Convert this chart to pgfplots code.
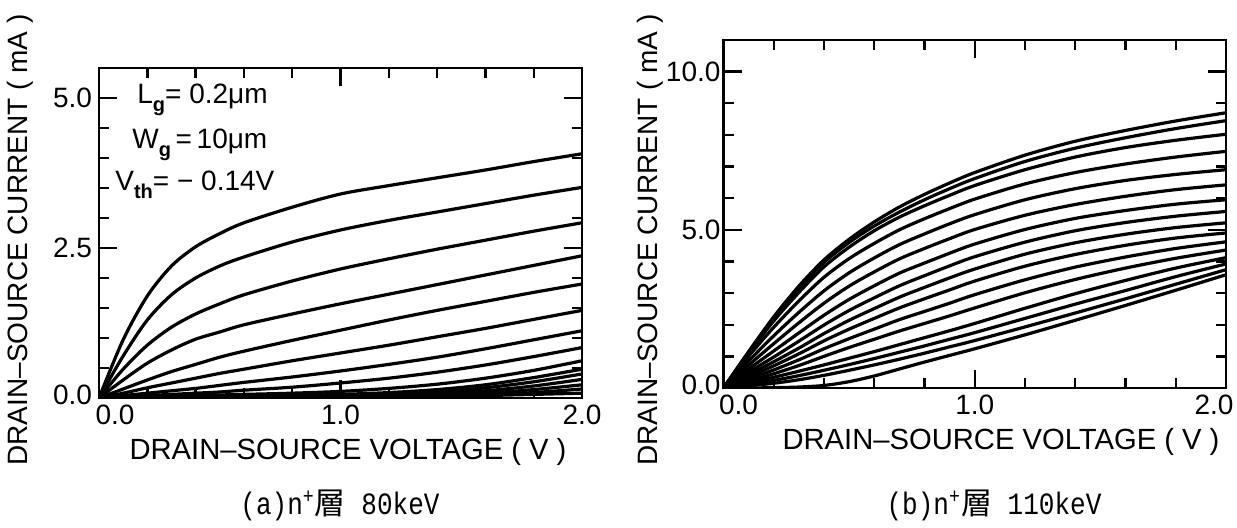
\documentclass[border=0pt]{standalone}
\usepackage{fontspec}
\usepackage{pgfplots}
\usepackage{pgfplotstable}
\pgfplotsset{compat=1.18}
\setmainfont{Liberation Sans}
\newfontfamily\capfont[FakeStretch=0.84]{Liberation Mono}
\newfontfamily\cjk{Noto Sans CJK JP}
\newcommand\sub[1]{\raisebox{-0.5ex}{\fontsize{10}{10}\selectfont\bfseries #1}}

\pgfplotstableread{
V   c1   c2   c3   c4   c5   c6   c7   c8   c9   c10  c11  c12  c13  c14  c15
0.0 0    0    0    0    0    0    0    0    0    0    0    0    0    0    0
0.1 0.97 0.70 0.48 0.30 0.15 0.08 0.04 0.02 0.01 0.005 0.003 0.002 0.001 0.001 0.0
0.2 1.70 1.30 0.88 0.58 0.30 0.17 0.08 0.04 0.02 0.01 0.005 0.003 0.002 0.001 0.0
0.3 2.20 1.72 1.18 0.80 0.44 0.25 0.12 0.06 0.03 0.01 0.01 0.005 0.003 0.002 0.001
0.4 2.52 2.00 1.40 0.98 0.56 0.33 0.16 0.08 0.04 0.02 0.01 0.01 0.005 0.003 0.002
0.5 2.74 2.20 1.57 1.10 0.68 0.41 0.21 0.10 0.05 0.02 0.01 0.01 0.01 0.005 0.003
0.6 2.92 2.35 1.72 1.22 0.78 0.48 0.26 0.13 0.06 0.03 0.02 0.01 0.01 0.01 0.005
0.8 3.18 2.60 1.95 1.40 0.96 0.62 0.35 0.18 0.08 0.04 0.03 0.02 0.01 0.01 0.01
1.0 3.40 2.80 2.15 1.57 1.13 0.75 0.45 0.25 0.11 0.06 0.04 0.03 0.02 0.01 0.01
1.2 3.54 2.96 2.32 1.73 1.30 0.88 0.56 0.33 0.16 0.09 0.06 0.04 0.03 0.02 0.01
1.4 3.67 3.10 2.48 1.89 1.46 1.02 0.68 0.43 0.23 0.14 0.10 0.07 0.05 0.03 0.02
1.6 3.80 3.24 2.63 2.05 1.61 1.16 0.82 0.55 0.33 0.22 0.17 0.12 0.08 0.05 0.04
1.8 3.94 3.38 2.78 2.21 1.76 1.31 0.97 0.69 0.46 0.34 0.27 0.20 0.14 0.09 0.06
2.0 4.07 3.51 2.92 2.37 1.90 1.46 1.12 0.84 0.62 0.48 0.40 0.31 0.22 0.15 0.08
}\leftdata

\pgfplotstableread{
V   c1   c2   c3   c4   c5   c6   c7   c8   c9   c10  c11  c12  c13  c14  c15  c16
0.0 0    0    0    0    0    0    0    0    0    0    0    0    0    0    0    0
0.1 1.15 1.13 1.10 1.00 0.85 0.72 0.60 0.50 0.42 0.35 0.28 0.22 0.16 0.11 0.07 0.00
0.2 2.25 2.20 2.12 1.92 1.65 1.40 1.17 0.98 0.83 0.70 0.57 0.45 0.34 0.24 0.15 0.01
0.3 3.22 3.15 3.02 2.75 2.39 2.06 1.74 1.48 1.26 1.08 0.89 0.71 0.53 0.39 0.26 0.03
0.4 4.05 3.97 3.83 3.50 3.07 2.68 2.30 1.99 1.72 1.49 1.24 1.00 0.73 0.56 0.40 0.08
0.5 4.70 4.60 4.45 4.09 3.64 3.22 2.80 2.45 2.14 1.86 1.56 1.28 0.94 0.74 0.56 0.20
0.6 5.25 5.12 4.97 4.57 4.11 3.67 3.23 2.85 2.51 2.20 1.86 1.54 1.15 0.93 0.73 0.38
0.7 5.72 5.56 5.40 5.00 4.53 4.08 3.63 3.23 2.87 2.53 2.16 1.80 1.37 1.13 0.91 0.60
0.8 6.12 5.95 5.76 5.35 4.87 4.41 3.95 3.55 3.18 2.82 2.42 2.04 1.59 1.33 1.10 0.82
0.9 6.48 6.30 6.09 5.67 5.19 4.72 4.26 3.86 3.48 3.10 2.68 2.28 1.81 1.54 1.30 1.03
1.0 6.81 6.62 6.40 5.97 5.48 5.01 4.55 4.15 3.76 3.38 2.95 2.53 2.04 1.75 1.50 1.24
1.2 7.36 7.16 6.90 6.45 5.95 5.46 5.01 4.61 4.23 3.85 3.42 3.01 2.52 2.20 1.93 1.68
1.4 7.80 7.58 7.30 6.81 6.30 5.80 5.36 4.97 4.59 4.22 3.82 3.43 2.98 2.65 2.37 2.14
1.6 8.14 7.91 7.60 7.08 6.56 6.06 5.61 5.23 4.86 4.51 4.14 3.79 3.40 3.08 2.82 2.61
1.8 8.44 8.20 7.83 7.30 6.75 6.27 5.81 5.43 5.07 4.74 4.41 4.10 3.79 3.52 3.28 3.09
2.0 8.70 8.45 8.02 7.48 6.90 6.42 5.95 5.58 5.22 4.90 4.62 4.36 4.12 3.92 3.74 3.58
}\rightdata

\pgfplotsset{
  myax/.style={
    scale only axis,
    anchor=south west,
    axis line style={line width=1.4pt},
    tick align=inside,
    major tick length=9pt,
    minor tick length=5pt,
    tick style={black, line width=1.2pt},
    tick label style={font=\fontsize{14}{14}\selectfont},
    xmin=0, xmax=2,
    xtick={0,1,2},
    minor x tick num=4,
  },
  curve/.style={black, solid, line width=1.6pt, smooth, tension=0.5, mark=none},
}

\begin{document}
\begin{tikzpicture}
\path[use as bounding box] (0,0) rectangle (618.5pt,264pt);

\begin{axis}[myax, at={(49.5pt,65pt)}, width=241.5pt, height=165pt,
  ymin=0, ymax=5.5, ytick={0,2.5,5}, minor y tick num=4,
  yticklabels={\raisebox{3pt}{0.0},2.5,5.0},
  xticklabels={\hspace*{16pt}0.0,1.0,2.0}]
\pgfplotsinvokeforeach{1,...,15}{\addplot[curve] table[x=V,y=c#1]{\leftdata};}
\end{axis}

\begin{axis}[myax, at={(361.75pt,70pt)}, width=251.25pt, height=174pt,
  ymin=0, ymax=11, ytick={0,5,10}, minor y tick num=4,
  yticklabels={\raisebox{3pt}{0.0},5.0,10.0},
  yticklabel style={xshift=2pt},
  xticklabels={\hspace*{15pt}0.0,1.0,2.0\hspace*{12pt}}]
\pgfplotsinvokeforeach{1,...,16}{\addplot[curve] table[x=V,y=c#1]{\rightdata};}
\end{axis}

\begin{scope}[every node/.style={font=\fontsize{14}{14}\selectfont, inner sep=0pt}]
\node[rotate=90] at (10pt,144pt) {DRAIN–SOURCE CURRENT ( mA )};
\node[rotate=90] at (325pt,144pt) {DRAIN–SOURCE CURRENT ( mA )};
\node[font=\fontsize{14.6}{15}\selectfont] at (174pt,38pt) {DRAIN–SOURCE VOLTAGE ( V )};
\node[font=\fontsize{14.6}{15}\selectfont] at (500.5pt,43pt) {DRAIN–SOURCE VOLTAGE ( V )};
\node[anchor=west] at (68.5pt,214pt) {L\sub{g}= 0.2μm};
\node[anchor=west] at (66pt,191.5pt) {W\sub{g}\,=\,10μm};
\node[anchor=west] at (57.5pt,171.5pt) {V\sub{th}= − 0.14V};
\end{scope}

\node[font=\capfont\fontsize{15.5}{16}\selectfont, inner sep=0pt] at (170pt,11.5pt) {(a)n\textsuperscript{+}{\cjk 層} 80keV};
\node[font=\capfont\fontsize{15.5}{16}\selectfont, inner sep=0pt] at (497pt,11.5pt) {(b)n\textsuperscript{+}{\cjk 層} 110keV};
\end{tikzpicture}
\end{document}
